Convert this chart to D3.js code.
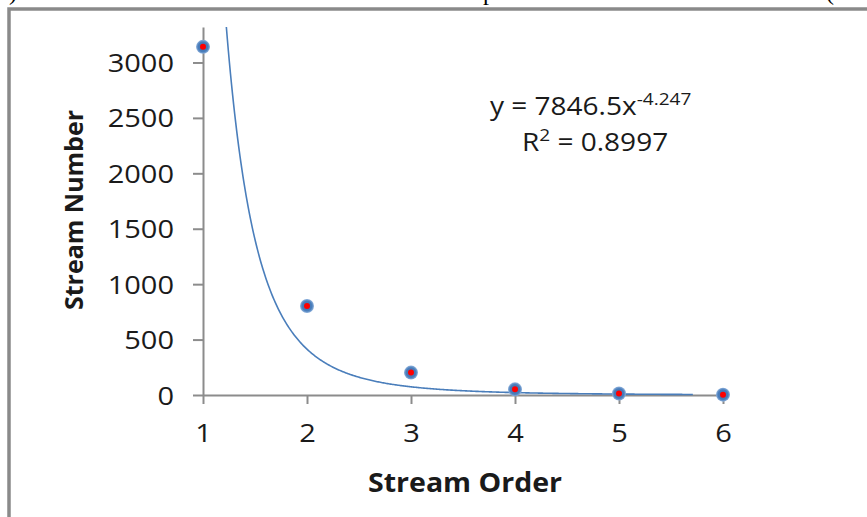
<!DOCTYPE html>
<html>
<head>
<meta charset="utf-8">
<script src="https://cdnjs.cloudflare.com/ajax/libs/d3/7.8.5/d3.min.js"></script>
<style>
	html, body { margin: 0; padding: 0; background: #fff; }
	svg text { font-family: 'Open Sans', 'Noto Sans', sans-serif; fill: #1a1a1a; }
</style>
</head>
<body>
<div id="chart"></div>
<script>
'use strict';

// data
var streamOrder = [1, 2, 3, 4, 5, 6];
var streamNumber = [3141, 803, 202, 51, 13, 3];
var yTicks = [0, 500, 1000, 1500, 2000, 2500, 3000];
var xTicks = [1, 2, 3, 4, 5, 6];

// power trendline shown on the chart
var trendA = 7846.5,
	trendB = -4.247,
	trendEnd = 5.71;

var width = 867,
	height = 517;

var svg = d3.select('#chart').append('svg')
	.attr('width', width)
	.attr('height', height);

// cut-off line of the text above the figure
svg.selectAll('text.above')
	.data([[9, ')'], [483, 'p'], [826, '(']])
	.enter().append('text')
	.attr('class', 'above')
	.attr('x', function(d) { return d[0]; })
	.attr('y', 0)
	.style('font-family', "'Liberation Serif', serif")
	.style('font-size', '24px')
	.style('fill', '#000')
	.text(function(d) { return d[1]; });

// outer frame (right and bottom edges fall off the picture)
svg.append('rect')
	.attr('x', 9)
	.attr('y', 9)
	.attr('width', 1000)
	.attr('height', 1000)
	.style('fill', 'none')
	.style('stroke', '#8a8a8a')
	.style('stroke-width', 3.5);

var x = d3.scaleLinear().domain([1, 6]).range([203, 723]);
var y = d3.scaleLinear().domain([0, 3320]).range([395, 27]);

// stretch text to a width (reference font is wider than ours)
function widen(sel, k) {
	sel.each(function() {
		var len = this.getComputedTextLength();
		d3.select(this)
			.attr('textLength', len * k)
			.attr('lengthAdjust', 'spacingAndGlyphs');
	});
}

var axisColor = '#8c8c8c';

var yAxis = svg.append('g')
	.attr('transform', 'translate(' + x(1) + ',0)')
	.call(d3.axisLeft(y).tickValues(yTicks).tickFormat(d3.format('d'))
		.tickSize(10).tickPadding(19).tickSizeOuter(0));

var xAxis = svg.append('g')
	.attr('transform', 'translate(0,' + y(0) + ')')
	.call(d3.axisBottom(x).tickValues(xTicks).tickFormat(d3.format('d'))
		.tickSize(9).tickPadding(20).tickSizeOuter(0));

[yAxis, xAxis].forEach(function(ax) {
	ax.select('.domain').style('stroke', axisColor).style('stroke-width', 2);
	ax.selectAll('.tick line').style('stroke', axisColor).style('stroke-width', 2);
	ax.selectAll('.tick text')
		.style('font-size', '25px')
		.style('fill', '#1a1a1a')
		.style('font-family', "'Open Sans', sans-serif");
});
yAxis.selectAll('.tick text').attr('dy', '0.36em');
xAxis.selectAll('.tick text').attr('dy', '0.71em');
widen(yAxis.selectAll('.tick text'), 1.16);
widen(xAxis.selectAll('.tick text'), 1.16);

// trendline
var xStart = Math.pow(y.domain()[1] / trendA, 1 / trendB);
var trendPts = d3.range(xStart, trendEnd, 0.01).concat([trendEnd]).map(function(v) {
	return [v, trendA * Math.pow(v, trendB)];
});

svg.append('path')
	.datum(trendPts)
	.attr('d', d3.line()
		.x(function(d) { return x(d[0]); })
		.y(function(d) { return y(d[1]); }))
	.style('fill', 'none')
	.style('stroke', '#4a7ebb')
	.style('stroke-width', 1.6);

// markers
var pts = streamOrder.map(function(o, i) { return [o, streamNumber[i]]; });

var defs = svg.append('defs');
var grad = defs.append('radialGradient').attr('id', 'mk');
grad.append('stop').attr('offset', '0%').attr('stop-color', '#3a6cb0');
grad.append('stop').attr('offset', '70%').attr('stop-color', '#4a7ebb');
grad.append('stop').attr('offset', '100%').attr('stop-color', '#8fb2dd');

var mk = svg.selectAll('g.pt')
	.data(pts)
	.enter().append('g')
	.attr('class', 'pt')
	.attr('transform', function(d) { return 'translate(' + x(d[0]) + ',' + y(d[1]) + ')'; });

mk.append('circle')
	.attr('r', 7)
	.style('fill', 'url(#mk)');

mk.append('circle')
	.attr('r', 3)
	.style('fill', '#ff0000');

// titles
var yTitle = svg.append('text')
	.attr('transform', 'translate(83,210) rotate(-90)')
	.attr('text-anchor', 'middle')
	.style('font-size', '25px')
	.style('font-weight', 'bold')
	.text('Stream Number');
widen(yTitle, 1.0);
yTitle.attr('textLength', 200);

var xTitle = svg.append('text')
	.attr('x', 465)
	.attr('y', 492)
	.attr('text-anchor', 'middle')
	.style('font-size', '26px')
	.style('font-weight', 'bold')
	.text('Stream Order');
xTitle.attr('textLength', 194).attr('lengthAdjust', 'spacingAndGlyphs');
yTitle.attr('lengthAdjust', 'spacingAndGlyphs');

// equation label
var eq = svg.append('text')
	.attr('x', 490)
	.attr('y', 115)
	.style('font-size', '25px');
eq.append('tspan').text('y = ' + trendA + 'x');
eq.append('tspan')
	.attr('dy', -10)
	.style('font-size', '17px')
	.text(String(trendB));
widen(eq, 1.12);

var r2 = svg.append('text')
	.attr('x', 522)
	.attr('y', 151)
	.style('font-size', '25px');
r2.append('tspan').text('R');
r2.append('tspan').attr('dy', -10).style('font-size', '17px').text('2');
r2.append('tspan').attr('dy', 10).text(' = 0.8997');
widen(r2, 1.12);

</script>
</body>
</html>
